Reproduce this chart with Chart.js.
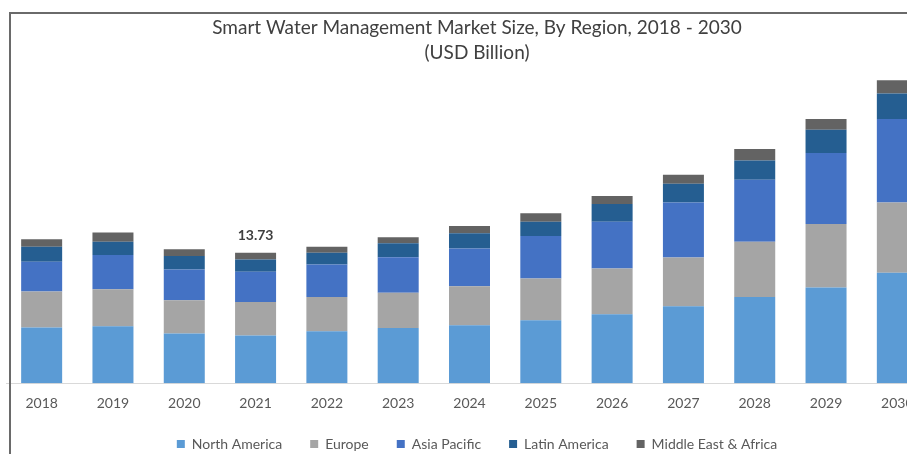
<!DOCTYPE html>
<html>
<head>
<meta charset="utf-8">
<title>Smart Water Management Market Size</title>
<script src="https://cdn.jsdelivr.net/npm/chart.js@4.4.1/dist/chart.umd.min.js"></script>
<style>
  html, body { margin: 0; padding: 0; background: #fff; overflow: hidden; }
  #wrap { position: absolute; left: 0; top: 0; width: 948px; height: 461px; }
  #frame {
    position: absolute; left: 9px; top: 12px; width: 960px; height: 460px;
    border-left: 2px solid #6a6a6a; border-top: 2px solid #6a6a6a;
    pointer-events: none;
  }
</style>
</head>
<body>
<div id="wrap"><canvas id="myChart"></canvas></div>
<div id="frame"></div>
<script>
var years = ['2018', '2019', '2020', '2021', '2022', '2023', '2024', '2025', '2026', '2027', '2028', '2029', '2030'];

var northAmerica = [5.85, 5.99, 5.22, 5.03, 5.46, 5.81, 6.09, 6.62, 7.25, 8.10, 9.08, 10.07, 11.62];
var europe       = [3.80, 3.91, 3.52, 3.52, 3.62, 3.70, 4.12, 4.40, 4.83, 5.14, 5.81, 6.68, 7.39];
var asiaPacific  = [3.13, 3.59, 3.24, 3.17, 3.42, 3.74, 3.98, 4.47, 4.92, 5.77, 6.52, 7.47, 8.81];
var latinAmerica = [1.58, 1.41, 1.41, 1.31, 1.22, 1.48, 1.58, 1.51, 1.87, 1.97, 2.04, 2.46, 2.67];
var middleEast   = [0.78, 0.95, 0.70, 0.70, 0.63, 0.63, 0.77, 0.89, 0.84, 0.95, 1.20, 1.13, 1.40];

// years that get their total written above the bar
var labelledYears = ['2021'];

var fontFamily = 'Lato, "Open Sans", sans-serif';

var totalLabel = {
  id: 'totalLabel',
  afterDatasetsDraw: function (chart) {
    var ctx = chart.ctx;
    var sets = chart.data.datasets;
    var topMeta = chart.getDatasetMeta(sets.length - 1);
    ctx.save();
    ctx.font = 'bold 14px ' + fontFamily;
    ctx.fillStyle = '#404040';
    ctx.textAlign = 'center';
    ctx.textBaseline = 'middle';
    labelledYears.forEach(function (yr) {
      var i = chart.data.labels.indexOf(yr);
      var total = 0;
      sets.forEach(function (ds) { total += ds.data[i]; });
      var bar = topMeta.data[i];
      ctx.fillText(total.toFixed(2), bar.x, bar.y - 17);
    });
    ctx.restore();
  }
};

var ctx = document.getElementById('myChart').getContext('2d');
var myChart = new Chart(ctx, {
  type: 'bar',
  data: {
    labels: years,
    datasets: [{
      label: 'North America',
      backgroundColor: '#5b9bd5',
      data: northAmerica
    }, {
      label: 'Europe',
      backgroundColor: '#a5a5a5',
      data: europe
    }, {
      label: 'Asia Pacific',
      backgroundColor: '#4472c4',
      data: asiaPacific
    }, {
      label: 'Latin America',
      backgroundColor: '#255e91',
      data: latinAmerica
    }, {
      label: 'Middle East & Africa',
      backgroundColor: '#636363',
      data: middleEast
    }]
  },
  options: {
    responsive: true,
    maintainAspectRatio: false,
    animation: false,
    layout: { padding: { left: 6, right: 0, top: 0, bottom: 0 } },
    datasets: {
      bar: { barPercentage: 0.575, categoryPercentage: 1.0 }
    },
    scales: {
      x: {
        stacked: true,
        grid: { display: false, drawTicks: false },
        border: { display: true, color: '#d9d9d9', width: 1 },
        ticks: { color: '#595959', padding: 12, font: { family: fontFamily, size: 14 } },
        afterFit: function (scale) { scale.height = scale.height - 15; }
      },
      y: {
        stacked: true,
        position: 'right',
        min: 0,
        max: 32,
        grid: { display: false, drawTicks: false },
        border: { display: false },
        ticks: { display: false },
        afterFit: function (scale) { scale.width = 15; }
      }
    },
    plugins: {
      title: {
        display: true,
        text: ['Smart Water Management Market Size, By Region, 2018 - 2030', '(USD Billion)'],
        color: '#404040',
        font: { family: fontFamily, size: 19, weight: 'normal', lineHeight: 1.32 },
        padding: { top: 15, bottom: 14 }
      },
      legend: {
        position: 'bottom',
        labels: {
          color: '#595959',
          boxWidth: 8,
          boxHeight: 8,
          padding: 28,
          font: { family: fontFamily, size: 14 }
        }
      },
      tooltip: { enabled: false }
    }
  },
  plugins: [totalLabel]
});
</script>
</body>
</html>
